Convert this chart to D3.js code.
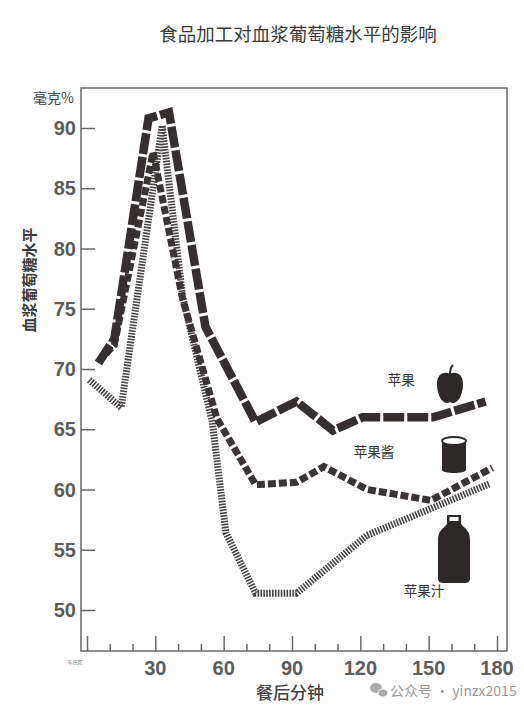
<!DOCTYPE html>
<html>
<head>
<meta charset="utf-8">
<script src="https://cdn.jsdelivr.net/npm/d3@7"></script>
<style>
  body { margin: 0; background: #fff; }
  svg text { font-family: "Noto Sans CJK SC", "Noto Sans", sans-serif; }
</style>
</head>
<body>
<div id="chart"></div>
<script>
// minutes after meal / plasma glucose (mg%)
const appleData = [[5, 70.5], [12, 72.5], [27, 90.8], [36, 91.3], [52, 73.5], [74, 65.6], [92, 67.3], [108, 64.9], [121, 66], [152, 66], [175, 67.3]];
const sauceData = [[5, 70.6], [12, 72], [29, 88], [42, 75.8], [57, 65.9], [74, 60.4], [92, 60.6], [104, 61.9], [123, 60], [151, 59.1], [178, 61.8]];
const juiceData = [[1, 69.1], [15, 66.8], [33, 90.2], [42, 76], [55, 65.6], [61, 56.4], [74, 51.4], [92, 51.4], [123, 56.2], [152, 58.5], [177, 60.5]];

const yTicks = [50, 55, 60, 65, 70, 75, 80, 85, 90];
const xMajor = [0, 30, 60, 90, 120, 150, 180];
const xLabels = [30, 60, 90, 120, 150, 180];

const seriesLabels = [
  { name: "苹果", t: 138, v: 69.1 },
  { name: "苹果酱", t: 126, v: 63.1 },
  { name: "苹果汁", t: 148, v: 51.6 }
];

const width = 524, height = 712;
const svg = d3.select("#chart").append("svg").attr("width", width).attr("height", height);

const x = d3.scaleLinear().domain([0, 180]).range([87, 497]);
const y = d3.scaleLinear().domain([50, 90]).range([610, 128]);

// title
svg.append("text").attr("x", 298).attr("y", 41).attr("text-anchor", "middle")
  .attr("font-size", 18.5).attr("fill", "#3a3a3a").attr("font-weight", 400)
  .text("食品加工对血浆葡萄糖水平的影响");

// frame
svg.append("rect").attr("x", 81).attr("y", 88).attr("width", 426).attr("height", 563)
  .attr("fill", "none").attr("stroke", "#6a6a6a").attr("stroke-width", 1.5);

// y axis ticks (inward)
const yAxis = d3.axisRight(y).tickValues(yTicks).tickSize(14).tickFormat("");
const gy = svg.append("g").attr("transform", "translate(81,0)").call(yAxis);
gy.select(".domain").remove();
gy.selectAll("line").attr("stroke", "#6a6a6a").attr("stroke-width", 1.5);

svg.selectAll(".ylab").data(yTicks).join("text")
  .attr("x", 76).attr("y", d => y(d) + 7).attr("text-anchor", "end")
  .attr("font-size", 20).attr("font-weight", 600).attr("fill", "#5c5c5c")
  .style("font-family", "'Liberation Sans', Arial, sans-serif")
  .text(d => d);

// x axis ticks (upward)
const xMinor = d3.range(0, 181, 10).filter(d => d % 30 !== 0);
const gxMinor = svg.append("g").attr("transform", "translate(0,651)")
  .call(d3.axisTop(x).tickValues(xMinor).tickSize(7).tickFormat(""));
const gxMajor = svg.append("g").attr("transform", "translate(0,651)")
  .call(d3.axisTop(x).tickValues(xMajor).tickSize(15).tickFormat(""));
[gxMinor, gxMajor].forEach(g => {
  g.select(".domain").remove();
  g.selectAll("line").attr("stroke", "#6a6a6a").attr("stroke-width", 1.5);
});

svg.selectAll(".xlab").data(xLabels).join("text")
  .attr("x", d => x(d)).attr("y", 675).attr("text-anchor", "middle")
  .attr("font-size", 20).attr("font-weight", 600).attr("fill", "#5c5c5c")
  .style("font-family", "'Liberation Sans', Arial, sans-serif")
  .text(d => d);

// axis titles
svg.append("text").attr("x", 33).attr("y", 103).attr("font-size", 14).attr("fill", "#444").text("毫克%");
svg.append("text").attr("transform", "translate(35,280) rotate(-90)").attr("text-anchor", "middle")
  .attr("font-size", 15).attr("font-weight", 600).attr("fill", "#3a3a3a").text("血浆葡萄糖水平");
svg.append("text").attr("x", 290).attr("y", 699).attr("text-anchor", "middle")
  .attr("font-size", 17).attr("font-weight", 500).attr("fill", "#444").text("餐后分钟");
svg.append("text").attr("x", 75).attr("y", 664).attr("text-anchor", "middle")
  .attr("font-size", 5).attr("fill", "#777").text("车氏区");

// lines
const line = d3.line().x(d => x(d[0])).y(d => y(d[1]));

svg.append("path").datum(juiceData).attr("d", line)
  .attr("fill", "none").attr("stroke", "#474343").attr("stroke-width", 7)
  .attr("stroke-dasharray", "1.6,1.3").attr("stroke-linejoin", "miter");

svg.append("path").datum(sauceData).attr("d", line)
  .attr("fill", "none").attr("stroke", "#3b3434").attr("stroke-width", 7)
  .attr("stroke-dasharray", "8,3").attr("stroke-linejoin", "miter");

svg.append("path").datum(appleData).attr("d", line)
  .attr("fill", "none").attr("stroke", "#352f2f").attr("stroke-width", 8.5)
  .attr("stroke-dasharray", "21,3").attr("stroke-linejoin", "miter");

// series labels
svg.selectAll(".slab").data(seriesLabels).join("text")
  .attr("x", d => x(d.t)).attr("y", d => y(d.v) + 5).attr("text-anchor", "middle")
  .attr("font-size", 13.5).attr("fill", "#333").text(d => d.name);

// icons
const ink = "#2e2929";
// apple
const ga = svg.append("g").attr("transform", "translate(450,386)");
ga.append("path").attr("fill", ink)
  .attr("d", "M0,-12 C-5,-15 -13,-13 -13,-2 C-13,9 -8,17 -3,17 C-1,17 0,16 0,16 C0,16 1,17 3,17 C8,17 13,9 13,-2 C13,-13 5,-15 0,-12 Z");
ga.append("path").attr("fill", "none").attr("stroke", ink).attr("stroke-width", 2)
  .attr("d", "M0,-12 C0,-16 1,-19 3,-21");
// can
const gc = svg.append("g").attr("transform", "translate(454,455)");
gc.append("path").attr("fill", ink)
  .attr("d", "M-12,-14 L-12,15 C-12,19 12,19 12,15 L12,-14 Z");
gc.append("ellipse").attr("cx", 0).attr("cy", -14).attr("rx", 12).attr("ry", 4)
  .attr("fill", "#fff").attr("stroke", ink).attr("stroke-width", 1.8);
// bottle
const gb = svg.append("g").attr("transform", "translate(454,549)");
gb.append("path").attr("fill", ink)
  .attr("d", "M-7,-34 L7,-34 L7,-26 C7,-24 9,-23 11,-21 C15,-17 16,-14 16,-8 L16,29 C16,33 14,34 10,34 L-10,34 C-14,34 -16,33 -16,29 L-16,-8 C-16,-14 -15,-17 -11,-21 C-9,-23 -7,-24 -7,-26 Z");
gb.append("rect").attr("x", -4.5).attr("y", -32).attr("width", 9).attr("height", 4).attr("fill", "#fff");

// watermark
const gw = svg.append("g").attr("transform", "translate(378,690)");
gw.append("ellipse").attr("cx", -2).attr("cy", -2).attr("rx", 6).attr("ry", 5).attr("fill", "#aaa");
gw.append("ellipse").attr("cx", 5).attr("cy", 3).attr("rx", 5).attr("ry", 4).attr("fill", "#aaa").attr("stroke", "#fff").attr("stroke-width", 1);
svg.append("text").attr("x", 390).attr("y", 696).attr("font-size", 14).attr("fill", "#9a9a9a")
  .text("公众号 · yinzx2015");
</script>
</body>
</html>
